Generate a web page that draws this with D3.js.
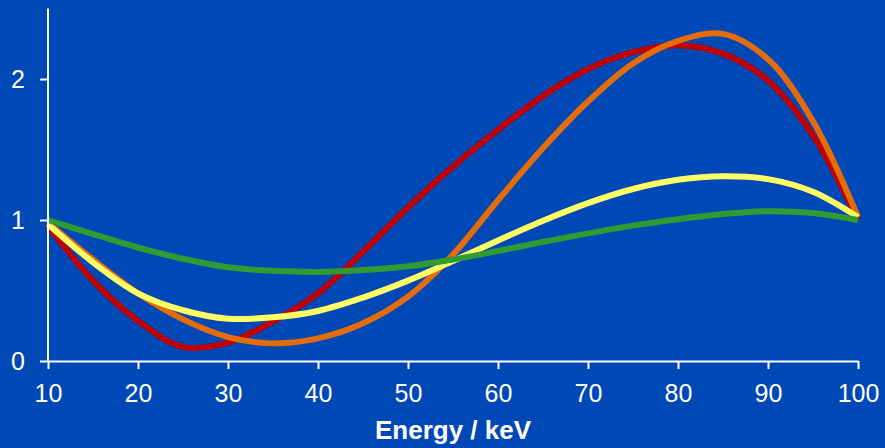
<!DOCTYPE html>
<html>
<head>
<meta charset="utf-8">
<script src="https://cdn.jsdelivr.net/npm/d3@7"></script>
<style>
  html, body { margin: 0; padding: 0; background: #0048B5; }
  svg { display: block; }
  text { font-family: "Liberation Sans", Arial, sans-serif; fill: #fff; }
</style>
</head>
<body>
<svg id="chart" width="885" height="448"></svg>
<script>
const energy = [10, 15, 20, 25, 30, 35, 40, 45, 50, 55, 60, 65, 70, 75, 80, 85, 90, 95, 100];
const redSeries    = [0.96, 0.57, 0.285, 0.10, 0.13, 0.28, 0.48, 0.775, 1.09, 1.38, 1.64, 1.88, 2.07, 2.19, 2.24, 2.18, 1.99, 1.60, 1.0];
const orangeSeries = [0.98, 0.72, 0.48, 0.295, 0.17, 0.125, 0.16, 0.267, 0.456, 0.755, 1.14, 1.51, 1.84, 2.11, 2.27, 2.32, 2.14, 1.70, 1.02];
const yellowSeries = [0.97, 0.70, 0.48, 0.36, 0.30, 0.31, 0.355, 0.45, 0.57, 0.71, 0.855, 0.995, 1.12, 1.22, 1.285, 1.31, 1.29, 1.20, 1.02];
const greenSeries  = [1.0, 0.90, 0.805, 0.725, 0.665, 0.64, 0.632, 0.645, 0.672, 0.72, 0.78, 0.845, 0.905, 0.96, 1.005, 1.042, 1.062, 1.05, 1.0];
const xTicks = [10, 20, 30, 40, 50, 60, 70, 80, 90, 100];
const yTicks = [0, 1, 2];
const xLabel = "Energy / keV";

const series = [
  { values: redSeries, color: "#C00000" },
  { values: orangeSeries, color: "#E46C0A" },
  { values: yellowSeries, color: "#FFFF66" },
  { values: greenSeries, color: "#339933" }
];

const svg = d3.select("#chart");
const x = d3.scaleLinear().domain([10, 100]).range([48, 858]);
const y = d3.scaleLinear().domain([0, 2.5]).range([361, 8.5]);

const line = d3.line()
  .x((d, i) => x(energy[i]))
  .y(d => y(d))
  .curve(d3.curveCatmullRom.alpha(0.5));

svg.append("g").selectAll("path")
  .data(series)
  .join("path")
  .attr("d", s => line(s.values))
  .attr("fill", "none")
  .attr("stroke", s => s.color)
  .attr("stroke-width", 6)
  .attr("stroke-linecap", "butt")
  .attr("stroke-linejoin", "round");

// Axes
const xAxis = d3.axisBottom(x).tickValues(xTicks).tickFormat(d3.format("d")).tickSize(8).tickPadding(6).tickSizeOuter(0);
const yAxis = d3.axisLeft(y).tickValues(yTicks).tickFormat(d3.format("d")).tickSize(8).tickPadding(15).tickSizeOuter(0);

const gx = svg.append("g").attr("transform", "translate(0,361)").call(xAxis);
const gy = svg.append("g").attr("transform", "translate(48,0)").call(yAxis);

[gx, gy].forEach(g => {
  g.select(".domain").attr("stroke", "#fff").attr("stroke-width", 2);
  g.selectAll(".tick line").attr("stroke", "#fff").attr("stroke-width", 2);
  g.selectAll(".tick text")
    .attr("fill", "#fff")
    .style("font-family", "'Liberation Sans', Arial, sans-serif")
    .style("font-size", "25px");
});
gy.select(".domain").attr("d", "M0," + y(2.5) + "V" + y(0));
gx.selectAll(".tick text").attr("dy", null).attr("y", 41);

svg.append("text")
  .attr("x", (x(10) + x(100)) / 2)
  .attr("y", 439)
  .attr("text-anchor", "middle")
  .style("font-size", "26px")
  .style("font-weight", "bold")
  .text(xLabel);
</script>
</body>
</html>
